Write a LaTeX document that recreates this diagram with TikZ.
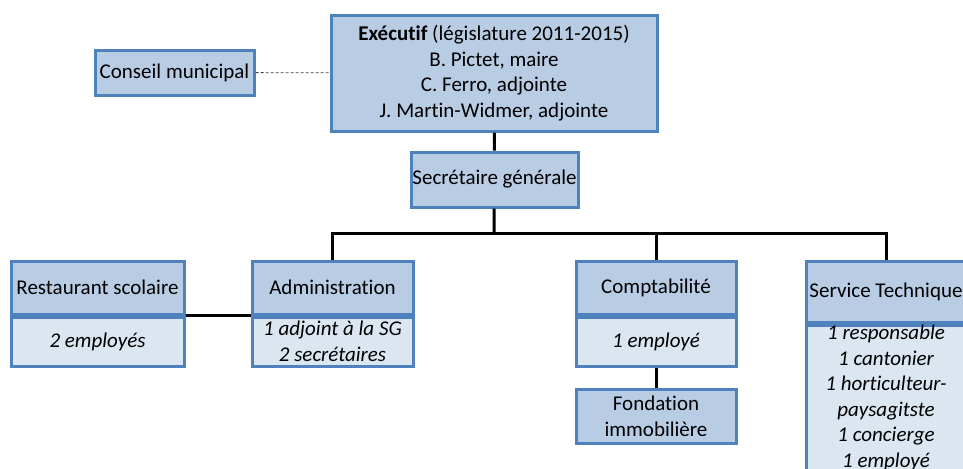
\documentclass[tikz,border=0pt]{standalone}
\usepackage{fontspec}
\setmainfont{Carlito}[Ligatures=NoCommon]
\usetikzlibrary{calc}
\definecolor{boxline}{RGB}{79,129,189}
\definecolor{boxhead}{RGB}{184,204,228}
\definecolor{boxbody}{RGB}{220,230,241}

\begin{document}
\begin{tikzpicture}[x=0.5pt, y=-0.5pt,
    every node/.style={font=\fontsize{10.5}{12.8}\selectfont, align=center,
      inner sep=0pt, line width=1.5pt, draw=boxline},
    head/.style={fill=boxhead},
    body/.style={fill=boxbody, font=\fontsize{10.5}{12.8}\selectfont\itshape},
    link/.style={line width=1.5pt, black}]
    \useasboundingbox (0,0) rectangle (963,468);
    \clip (0,0) rectangle (963,468);

    % top of the chart
    \node[head, minimum width=79.5pt, minimum height=22.5pt] (conseil) at (174.5,72.5)
      {Conseil municipal};
    \node[head, minimum width=163pt, minimum height=58pt] (exec) at (494,73)
      {\textbf{Exécutif} (législature 2011-2015)\\B. Pictet, maire\\
       C. Ferro, adjointe\\J. Martin-Widmer, adjointe};
    \node[head, minimum width=83.5pt, minimum height=27.5pt] (secr) at (494.5,179.5)
      {Secrétaire générale};

    % services
    \node[head, minimum width=86.5pt, minimum height=26.5pt] (resto) at (97.5,287.5)
      {Restaurant scolaire};
    \node[body, minimum width=86.5pt, minimum height=24.5pt, anchor=north] (restobody)
      at (resto.south) {2 employés};

    \node[head, minimum width=80.5pt, minimum height=26.5pt] (admin) at (332.5,287.5)
      {Administration};
    \node[body, minimum width=80.5pt, minimum height=24.5pt, anchor=north] (adminbody)
      at (admin.south) {1 adjoint à la SG\\2 secrétaires};

    \node[head, minimum width=80pt, minimum height=26.5pt] (compta) at (656,287.5)
      {Comptabilité};
    \node[body, minimum width=80pt, minimum height=24.5pt, anchor=north] (comptabody)
      at (compta.south) {1 employé};
    \node[head, minimum width=80pt, minimum height=27pt] (fond) at (656,416)
      {Fondation\\immobilière};

    \node[head, minimum width=80pt, minimum height=30.5pt] (serv) at (886,291.5)
      {Service Technique};
    \node[body, minimum width=80pt, minimum height=75pt, anchor=north] (servbody)
      at (serv.south) {1 responsable\\1 cantonier\\1 horticulteur-\\paysagitste\\
       1 concierge\\1 employé\rule[-6pt]{0pt}{1pt}};

    % connectors
    \draw[dash pattern=on 1.5pt off 1pt, thin, black!75] (conseil) -- (exec);
    \draw[link] (exec) -- (secr);
    \coordinate (bus) at (494,233);
    \draw[link] (secr) -- (bus);
    \draw[link] (admin) |- (bus) -| (serv);
    \draw[link] (bus -| compta) -- (compta);
    \draw[link] (resto.south east) -- (admin.south west);
    \draw[link] (comptabody) -- (fond);
  \end{tikzpicture}
\end{document}
